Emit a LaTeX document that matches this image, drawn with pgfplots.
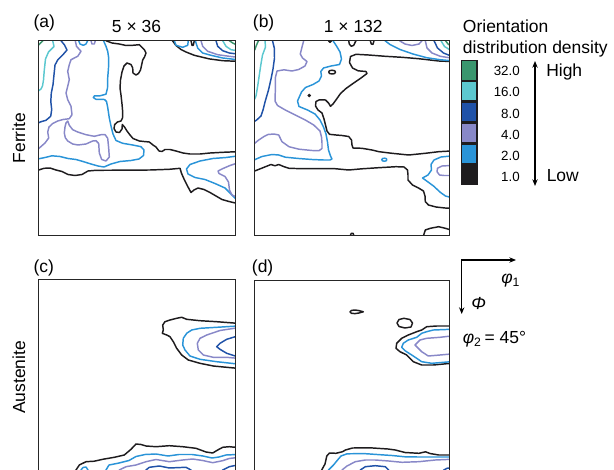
\documentclass[border=0pt]{standalone}
\usepackage{fontspec}
\setmainfont{Liberation Sans}
\usepackage{pgfplots}
\pgfplotsset{compat=1.18}
\usetikzlibrary{arrows.meta}
\definecolor{cG}{RGB}{58,150,110}
\definecolor{cC}{RGB}{92,200,208}
\definecolor{cD}{RGB}{32,82,168}
\definecolor{cL}{RGB}{136,136,200}
\definecolor{cB}{RGB}{42,148,216}
\definecolor{cK}{RGB}{30,28,30}
\newcommand\fa{\fontsize{13.1}{15}\selectfont}
\newcommand\fb{\fontsize{10}{12}\selectfont}
\pgfplotsset{
 panel/.style={scale only axis, y dir=reverse, xtick=\empty, ytick=\empty,
   axis line style={draw=black!85, line width=1.125pt}, clip=true, anchor=center, axis on top},
 ct/.style={no marks, line width=1.1pt, line join=round, line cap=round},
}
\begin{document}
\begin{tikzpicture}
\useasboundingbox (0,0) rectangle (460.5pt,-352.5pt);
\clip (0,0) rectangle (460.5pt,-352.5pt);
% ---------------- (a) ferrite 5x36
\begin{axis}[panel, at={(102.75pt,-103.5pt)}, width=147.75pt, height=146.25pt,
  xmin=38.5, xmax=235.5, ymin=40.5, ymax=235.5]
\addplot[ct,cG] coordinates {(37,46)(38.7,45)(40.5,43)(43,40.7)(44,39.5)};
\addplot[ct,cC] coordinates {(52.7,39.5)(52.7,40.7)(54,46.5)(48.5,52)(45.5,59)(44.3,70)(43.5,80)(42.5,86)(41,89)(38.7,90.7)(37,91.5)};
\addplot[ct,cD] coordinates {(61,39.5)(61,40.7)(64.3,44.7)(67,50)(62.7,55)(57.7,60)(55,65)(54,74.7)(53,84.7)(51.3,93)(50.8,101.3)(51.7,109.7)(50.7,116.3)(46,120.3)(41,121.7)(37,123.5)};
\addplot[ct,cL] coordinates {(75.3,39.5)(75.3,40.7)(76.5,46.3)(81,51.3)(77.7,56.3)(71,59.7)(69.3,64.7)(67.7,71.3)(69.3,79.7)(67.7,86.3)(66,93)(67.7,99.7)(71,106.3)(72,114.7)(69.3,118.7)(63,119.5)(57.7,121)(52.7,123.5)(49,127)(47.7,132)(48.7,138)(45,143)(39,148.3)(37,150)};
\addplot[ct,cL] coordinates {(67.7,121)(69.3,125.3)(72.7,129.7)(77.7,132)(86,134.7)(94.3,136.3)(101,134.7)(105,134.5)(107.7,138.3)(108.7,148.3)(109.3,157)(106,161)(101.7,159.5)(99.3,153)(98.7,143.5)(96,140.7)(92.7,141)(86,144)(78,145)(72.7,144)(67.7,141)(65.3,137.7)(64.3,133)(65,127)(66,123)(67.7,121)};
\addplot[ct,cB] coordinates {(78.7,39.5)(78.7,40.7)(80,44)(83.3,45.3)(86,44)(87.7,40.7)(87.7,39.5)};
\addplot[ct,cL] coordinates {(91,39.5)(91,40.7)(92,44)(94.3,44)(95.3,40.7)(95.3,39.5)};
\addplot[ct,cB] coordinates {(103.5,39.5)(103.5,40.7)(106,46.3)(107.7,51.3)(108.7,58)(108.5,68)(107.7,78)(107.5,88)(106,94.2)(100,95.8)(94.5,95.8)(93.3,97.5)(96,99.3)(104.5,99.5)(106.5,101.5)(107.8,108)(109.3,118)(111,126)(113,134)(116,140.5)(122.7,143.3)(132.7,145)(141,146.7)(144,150)(143.5,155.5)(139,159)(131,160.5)(120,161.5)(111,164)(104,167)(98,166)(91,164)(83,161.5)(76,159.5)(68,158.5)(60,156.5)(52,155.8)(45,157.5)(38.7,158.8)(37,159)};
\addplot[ct,cK] coordinates {(106,39.5)(106,40.7)(112,43)(119.3,44)(126,45.5)(132.7,45.3)(139.3,44.7)(144.3,49.7)(146,53)(144.5,57)(142.7,60)(141.7,64.7)(140.5,70)(138.5,73.5)(136,75)(133,73)(132.7,68)(131,64.5)(127,63)(124,66)(122,72)(120.5,80)(120,88)(121,95)(122,104)(122.7,112)(122.5,118)(121,121)(117.5,122)(114.7,124.5)(114,128.5)(116,132)(119.5,132.5)(122,129)(122.3,124.5)(124.5,127)(127,131)(130,135)(133,138.5)(139.3,141)(144,141.5)(149.3,142)(153,145)(156,147)(159,151)(162,151.5)(165,149.5)(170,149.5)(176,151)(183,153)(190,154)(200,154)(210,153)(222.7,152.3)(237.5,151.7)};
\addplot[ct,cK] coordinates {(37,170)(38.7,170)(44,168.3)(50,168)(56,170)(62,171.5)(68,174.5)(75,175.5)(82,174.5)(88,171)(96,170.3)(120,170.2)(150,170)(169.3,169.3)(180,168.3)(181.5,173.3)(184,179)(187.5,186)(191,192.5)(194,190)(198,188)(204,189.5)(210,192.5)(216,196)(222,199.5)(229,201.5)(237.5,203.5)};
\addplot[ct,cB] coordinates {(237.5,156)(226,157.5)(213,158.5)(200,161)(190,164.5)(186.5,169)(188,174)(195,177.5)(205,179.5)(215,183.5)(225,188)(231,194)(237.5,200.5)};
\addplot[ct,cL] coordinates {(237.5,163)(230,165.5)(223,168.5)(218,171)(219,173.5)(225,176.5)(228.5,182)(229.5,190)(232,195)(237.5,197.5)};
\addplot[ct,cK] coordinates {(172.5,39.5)(172.5,40.7)(176,45.5)(181,49.5)(186,52)(194.3,55.3)(209.3,58.9)(222.7,60.7)(237.5,61.3)};
\addplot[ct,cB] coordinates {(174.3,39.5)(174.3,40.7)(176,45.3)(182.7,47.3)(187.7,45.3)(188.3,40.7)(188.3,39.5)};
\addplot[ct,cK] coordinates {(191,39.5)(191,40.7)(192,45.3)(193.3,45.3)(194.3,40.7)(194.3,39.5)};
\addplot[ct,cB] coordinates {(195.3,39.5)(195.3,40.7)(197.7,48)(202.7,53)(211,55.3)(222.7,58)(237.5,59.7)};
\addplot[ct,cL] coordinates {(201,39.5)(201,40.7)(202.7,46.3)(207.7,51.3)(217.7,54.7)(229.3,56.3)(237.5,57.3)};
\addplot[ct,cD] coordinates {(216,39.5)(216,40.7)(217.7,46.3)(222.7,50.7)(229.3,53)(237.5,54)};
\addplot[ct,cC] coordinates {(222.7,39.5)(222.7,40.7)(226,46.3)(231,49.7)(237.5,50.7)};
\addplot[ct,cG] coordinates {(229.3,39.5)(229.3,40.7)(232.7,43)(237.5,45.3)};
\end{axis}
% ---------------- (b) ferrite 1x132
\begin{axis}[panel, at={(264pt,-103.5pt)}, width=146.25pt, height=146.25pt,
  xmin=254.5, xmax=449.5, ymin=40.5, ymax=235.5]
\addplot[ct,cG] coordinates {(253,51)(254.7,50)(256.5,45)(258.5,40.7)(259,39.5)};
\addplot[ct,cC] coordinates {(264.7,39.5)(265,40.7)(265.5,47)(262.5,55)(260.8,65)(259.3,75)(257.7,86)(256,96)(254.7,99)(253,100)};
\addplot[ct,cD] coordinates {(272.5,39.5)(272.5,40.7)(274.3,48)(274.5,58)(273,69)(271,79)(268.5,90)(265.3,101)(263,110)(261,116)(257,119.7)(254.7,121.3)(253,122)};
\addplot[ct,cL] coordinates {(303.7,39.5)(303.7,40.7)(302,47)(300.3,54)(302.5,58)(307,61.5)(305,66)(298.7,69.5)(292,71)(284,69.8)(277,71)(275.3,78)(275.3,91)(275,101)(277.5,105.5)(285.3,110)(295.3,115)(305.3,120)(313.7,125)(320,131)(321.5,137)(322,143)(322,148.5)(319,150.7)(312,150.5)(299,149.2)(289,146.7)(282,141.7)(278.7,135)(274,134)(268,134.5)(263.7,136.7)(258.7,140)(254.7,143.3)(253,144.5)};
\addplot[ct,cB] coordinates {(333,39.5)(333,40.7)(336.5,46)(340,52)(341.5,59)(339.5,64.5)(331,66)(323.5,68)(320.8,71.5)(321.5,76)(319,81)(313,84.5)(305.5,87.5)(301.5,92)(297.5,101)(299,106.5)(307.5,110)(315,114)(320,120)(323.5,127)(326,134)(327.5,142)(328.5,150)(330.5,156)(332,159)(330,160)(323.7,160)(312,159.5)(298.7,158.5)(285.3,157.2)(278.7,155)(272,154.5)(262,156.5)(254.7,159.7)(253,160.3)};
\addplot[ct,cK] coordinates {(328.7,72)(329.5,70.7)(332,70.2)(334.8,70.8)(335.5,72.2)(334.5,73.6)(332,74)(329.5,73.5)(328.7,72)};
\addplot[only marks, mark=*, mark size=1.1pt, cK] coordinates {(309.3,95.5)};
\addplot[ct,cK] coordinates {(451,61.5)(438.7,61)(418.7,58.7)(402,57.3)(385.3,56.3)(368.7,55)(356,54.3)(350.5,56.5)(349.5,62.5)(352.5,68)(358,70.8)(366,71.5)(367,73.5)(361,78)(353,83.5)(346,88.5)(340.5,93.5)(337,98.5)(333,104)(330.5,106.3)(328.5,103)(325.5,100)(319.5,99.8)(316,101.5)(315.5,106)(318,110)(322,113)(324,119)(325.5,125)(327,131)(329.5,134.3)(336,135)(342,135.5)(348.7,136.5)(351.5,140)(352,145)(353,148)(362,148.3)(372,150)(379,151.7)(392,153.3)(408.7,155)(425.3,153.3)(438.7,151.7)(451,151)};
\addplot[ct,cB] coordinates {(381.8,159.7)(382.5,158.5)(384.3,158.2)(386.3,158.6)(386.8,159.7)(386.2,160.8)(384.3,161.2)(382.4,160.8)(381.8,159.7)};
\addplot[ct,cK] coordinates {(253,171)(254.7,171)(261,168.5)(266,166.5)(271,164.5)(275,165.8)(278.7,164.5)(284,166.7)(289,168.3)(302,168.7)(318.7,168.7)(335,168.7)(348.7,170)(352,169.7)(362,168.8)(378.7,167.7)(396,166.7)(404,167)(407.5,170)(408,175)(408,180)(412.5,185)(419,188.3)(423.5,191)(425,196)(425.3,201.7)(428.5,205)(436,207)(445,208)(451,208.3)};
\addplot[ct,cB] coordinates {(451,156)(441,157)(434,160)(431,164.5)(431.5,170)(428,175)(422.5,178)(426,180.5)(433.5,186)(440.5,192.5)(445.5,196)(451,197.5)};
\addplot[ct,cL] coordinates {(451,165.5)(442,166)(437.5,168.3)(437,171.7)(439.5,175)(444,175.5)(451,175.5)};
\addplot[ct,cK] coordinates {(348.7,39.5)(348.7,40.7)(349.3,44)(351.3,46.3)(353.7,45.3)(355.3,42)(356,40.7)(356,39.5)};
\addplot[ct,cK] coordinates {(370.3,39.5)(370.3,40.7)(371.3,44)(373,44.3)(374,40.7)(374,39.5)};
\addplot[ct,cK] coordinates {(328.5,39.5)(328.5,40.7)(330,42.3)(331.5,40.7)(331.5,39.5)};
\addplot[ct,cB] coordinates {(385,39.5)(385,40.7)(390,44.5)(400,49.5)(413,54)(426.7,57.7)(440,59.7)(451,60.7)};
\addplot[ct,cL] coordinates {(399.5,39.5)(399.5,40.7)(405,44)(412,45.5)(419,44)(422,40.7)(422,39.5)};
\addplot[ct,cL] coordinates {(425.3,39.5)(425.3,40.7)(427,48)(432,53)(440.3,56.3)(451,58)};
\addplot[ct,cD] coordinates {(434,39.5)(434,40.7)(437.5,48)(443.5,53)(451,56)};
\addplot[ct,cC] coordinates {(441,39.5)(441,40.7)(444.5,46.5)(451,50.5)};
\addplot[ct,cG] coordinates {(445.5,39.5)(445.5,40.7)(448,44)(451,46)};
\addplot[ct,cK] coordinates {(423.7,236.5)(423.7,235)(425.3,230)(430.3,228.3)(438.7,226.7)(445.3,228.3)(451,230)};
\addplot[ct,cK] coordinates {(350.5,236.5)(350.5,235)(351.3,233.3)(353,233.3)(353.7,235)(353.7,236.5)};
\end{axis}
% ---------------- (c) austenite 5x36
\begin{axis}[panel, at={(102.75pt,-282.75pt)}, width=147.75pt, height=146.25pt,
  xmin=38.5, xmax=235.5, ymin=279.5, ymax=474.5]
\addplot[ct,cK] coordinates {(237.5,323.3)(216.7,321.7)(200,320.7)(186.7,319.3)(181.7,317.3)(176.7,318.3)(170,320)(165,321.7)(162.7,325)(163.3,330)(162.3,333.3)(166.7,335)(170,336.7)(173.3,341.7)(176.7,348.3)(181.7,355)(188.3,360)(200,363.3)(213.3,366)(226.7,367.3)(237.5,368.3)};
\addplot[ct,cB] coordinates {(237.5,326)(216.7,327.3)(200,328.3)(191.7,330)(186.7,333.3)(183.3,338.3)(182.7,345)(185,350)(190,356)(200,359.3)(216.7,361.7)(237.5,364)};
\addplot[ct,cL] coordinates {(237.5,327.8)(220,330.5)(206.7,335)(200,338.3)(197.3,343.3)(198.3,350)(203.3,355)(213.3,357.3)(226.7,357.3)(237.5,358.3)};
\addplot[ct,cD] coordinates {(237.5,336)(226.7,339.3)(220,343.3)(216.7,346.7)(220,349.3)(226.7,353.3)(237.5,356.7)};
\addplot[ct,cK] coordinates {(75,472)(76,470)(79.3,465)(86,461.7)(94.3,461.2)(102.7,459.3)(114.3,457.3)(124.3,455)(131,449.3)(136,444)(141,444.5)(146,446)(156,446.7)(169.3,445.7)(182.7,446.7)(196,448.3)(206,452)(212.7,453)(217.7,450)(222.7,447.3)(229.3,446.7)(237.5,447.5)};
\addplot[ct,cB] coordinates {(81,472)(81,470)(83,467.5)(86,467)(88,470)(88,472)};
\addplot[ct,cB] coordinates {(105.5,472)(106,470)(109,465)(119,463)(129,460.5)(136,456.5)(145,454.5)(156,454)(168,456)(179,454.5)(192,454.5)(203,456)(212,458)(219,457)(226,455)(237.5,454.5)};
\addplot[ct,cL] coordinates {(118.5,472)(119.3,470)(126,466.7)(136,465)(146,461.7)(156,459.5)(169.3,461.7)(182.7,460)(192.7,459)(202.7,460.5)(212.7,462.7)(222.7,460.7)(229.3,458.5)(237.5,457.5)};
\addplot[ct,cD] coordinates {(145.5,472)(146,470)(149.3,467.3)(159.3,466)(169.3,468)(176,467.7)(186,467.3)(191,470)(192,472)};
\addplot[ct,cD] coordinates {(221.5,472)(222.7,470)(229.3,466.7)(237.5,465)};
\end{axis}
% ---------------- (d) austenite 1x132
\begin{axis}[panel, at={(264pt,-283.5pt)}, width=146.25pt, height=146.25pt,
  xmin=254.5, xmax=449.5, ymin=280.5, ymax=475.5]
\addplot[ct,cK] coordinates {(350,311.8)(351.5,310.4)(355,310)(359,310.6)(363.3,311.8)(359,313)(355,313.6)(351.5,313.3)(350,311.8)};
\addplot[ct,cK] coordinates {(397,323)(399,319.5)(404,318.3)(410,319.5)(412.5,323)(411,327)(405,328)(399,326.5)(397,323)};
\addplot[ct,cK] coordinates {(451,326)(436.7,326)(426.7,326.7)(421.7,330)(416.7,331.7)(408.3,335)(401.7,338.3)(396.7,343.3)(396,348.3)(400,351.7)(406.7,355)(413.3,361.7)(421.7,365)(433.3,365)(451,363.3)};
\addplot[ct,cB] coordinates {(451,329.3)(433.3,330)(426.7,331.7)(421.7,333.3)(416.7,337.3)(408.3,340)(403.3,343.3)(401.7,347.3)(405,350.7)(413.3,356)(421.7,361.7)(431.7,363.3)(451,361.7)};
\addplot[ct,cL] coordinates {(451,336)(440,337.3)(426.7,338.3)(420,340)(415,345)(421.7,351.7)(428.3,356)(440,355)(451,354)};
\addplot[ct,cK] coordinates {(321.5,476)(321.7,470)(325,464)(326.8,456)(329.5,453)(336,453.3)(342.5,451.7)(345.5,450)(352.5,448)(370,447.8)(388,449)(395.3,450)(405,452.5)(419,453.3)(425.5,451.8)(430,453.5)(438.7,455)(451,455)};
\addplot[ct,cB] coordinates {(328.3,476)(328.5,470)(333.5,465)(338,459.5)(341,456)(347,453.8)(364,453.6)(380,454.7)(392,455.5)(405,456.8)(418,457)(434,457)(451,457)};
\addplot[ct,cL] coordinates {(341.5,476)(342,470)(347,466)(355.3,461.7)(365.3,460)(375.3,460)(388.7,461)(402,462.3)(418.7,461.7)(435.3,460)(451,459.3)};
\addplot[ct,cD] coordinates {(359.5,476)(360.3,470)(365.3,466.7)(375.3,465.7)(385.3,466.7)(388.7,470)(389.5,476)};
\addplot[ct,cD] coordinates {(443,476)(443.7,470)(447,468.3)(451,467.7)};
\end{axis}
% ---------------- labels and legend
\begin{scope}[x=0.75pt,y=-0.75pt]
\node[anchor=base west,inner sep=0,font=\fa] at (33.3,28) {(a)};
\node[anchor=base,inner sep=0,font=\fa] at (136.5,32.3) {5 × 36};
\node[anchor=base west,inner sep=0,font=\fa] at (252.7,28) {(b)};
\node[anchor=base,inner sep=0,font=\fa] at (353.3,32.3) {1 × 132};
\node[anchor=base west,inner sep=0,font=\fa] at (33.3,273) {(c)};
\node[anchor=base west,inner sep=0,font=\fa] at (251.7,273) {(d)};
\node[rotate=90,inner sep=0,font=\fa] at (19,138) {Ferrite};
\node[rotate=90,inner sep=0,font=\fa] at (19,377.5) {Austenite};
\node[anchor=base west,inner sep=0,font=\fa] at (462.7,32.3) {Orientation};
\node[anchor=base west,inner sep=0,font=\fa] at (462.7,53.5) {distribution density};
\fill[cK] (461,60) rectangle (477.7,185.5);
\foreach \c [count=\i from 0] in {cG,cC,cD,cL,cB}
  \fill[\c] (462.4,{60+\i*20.92+1.4}) rectangle (476.3,{60+(\i+1)*20.92-1.4});
\foreach \v/\yy in {32.0/75.5,16.0/96.8,8.0/118.1,4.0/139.4,2.0/160.7,1.0/182}
  \node[anchor=base east,inner sep=0,font=\fb] at (520,\yy) {\v};
\draw[{Stealth[length=5pt,width=4pt]}-{Stealth[length=5pt,width=4pt]}, line width=0.9pt] (535,61) -- (535,186);
\node[anchor=base west,inner sep=0,font=\fa] at (546,77) {High};
\node[anchor=base west,inner sep=0,font=\fa] at (546.5,181.5) {Low};
\draw[{Stealth[length=5pt,width=4pt]}-{Stealth[length=5pt,width=4pt]}, line width=0.9pt] (516,260) -- (461.7,260) -- (461.7,314);
\node[anchor=base west,inner sep=0,font=\fa] at (501,284) {\textit{φ}\textsubscript{1}};
\node[anchor=base west,inner sep=0,font=\fa] at (471,309.5) {\textit{Φ}};
\node[anchor=base west,inner sep=0,font=\fa] at (462.5,343.3) {\textit{φ}\textsubscript{2}\,= 45°};
\end{scope}
\end{tikzpicture}
\end{document}
